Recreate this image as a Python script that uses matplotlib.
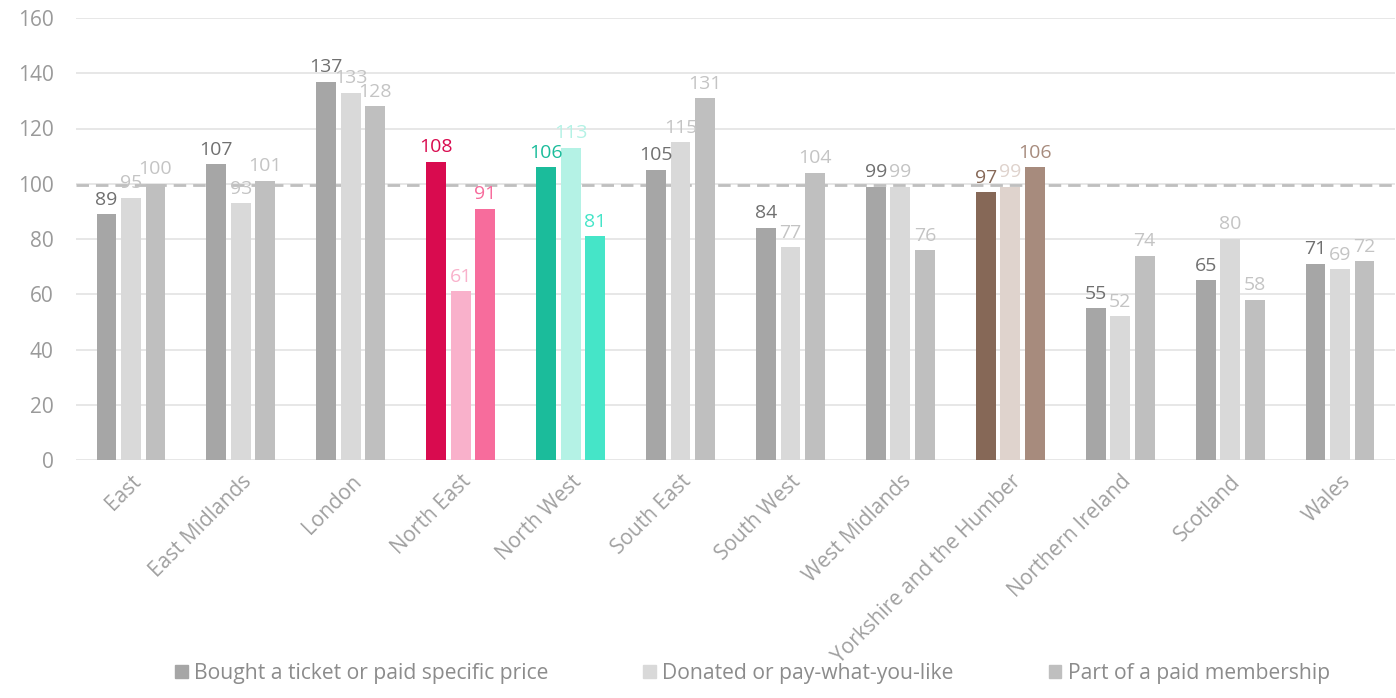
import numpy as np
import matplotlib.pyplot as plt
from matplotlib.patches import Patch

regions = ['East', 'East Midlands', 'London', 'North East', 'North West', 'South East',
           'South West', 'West Midlands', 'Yorkshire and the Humber', 'Northern Ireland',
           'Scotland', 'Wales']
ticket = [89, 107, 137, 108, 106, 105, 84, 99, 97, 55, 65, 71]
donated = [95, 93, 133, 61, 113, 115, 77, 99, 99, 52, 80, 69]
membership = [100, 101, 128, 91, 81, 131, 104, 76, 106, 74, 58, 72]
series_names = ['Bought a ticket or paid specific price', 'Donated or pay-what-you-like',
                'Part of a paid membership']
baseline = 99.6

grey = ['#a6a6a6', '#d9d9d9', '#bfbfbf']
grey_text = ['#707070', '#c4c4c4', '#c4c4c4']
highlight = {
    'North East': ['#d90b4f', '#f9b1cb', '#f76c9c'],
    'North West': ['#1bbc9b', '#b4f2e5', '#45e5c8'],
    'Yorkshire and the Humber': ['#866857', '#dfd3cd', '#a78b7d'],
}

plt.rcParams['font.family'] = ['Open Sans', 'DejaVu Sans']

fig = plt.figure(figsize=(13.96, 6.98), dpi=100)
ax = fig.add_axes([76 / 1396, 1 - 460 / 698, (1395 - 76) / 1396, (460 - 18) / 698])

x = np.arange(len(regions))
width = 0.18
step = 0.223
for j, vals in enumerate([ticket, donated, membership]):
    for i, v in enumerate(vals):
        if regions[i] in highlight:
            c = highlight[regions[i]][j]
            tc = c
        else:
            c = grey[j]
            tc = grey_text[j]
        xp = x[i] + (j - 1) * step
        ax.bar(xp, v, width=width, color=c, zorder=3)
        ax.text(xp, v + 2, str(v), ha='center', va='bottom', color=tc, fontsize=14, zorder=4)

ax.axhline(baseline, color='#bfbfbf', linestyle=(0, (4.5, 2.5)), linewidth=2, zorder=2)

ax.set_xlim(-0.5, len(regions) - 0.5)
ax.set_ylim(0, 160)
ax.set_yticks(range(0, 161, 20))
ax.yaxis.grid(True, color='#e3e3e3', linewidth=1.2, zorder=0)
ax.set_axisbelow(True)
for s in ax.spines.values():
    s.set_visible(False)
ax.tick_params(axis='both', length=0, colors='#9a9a9a', labelsize=15)
ax.tick_params(axis='y', pad=16)
ax.set_xticks(x)
ax.set_xticklabels(regions, rotation=45, ha='right', rotation_mode='anchor', color='#a0a0a0')
ax.tick_params(axis='x', pad=8)

handles = [Patch(color=c) for c in grey]
fig.legend(handles, series_names, loc='lower center', bbox_to_anchor=(0.539, -0.007), ncol=3,
           frameon=False, handlelength=0.6, handleheight=0.6, handletextpad=0.3,
           columnspacing=4.5, prop={'size': 15.2}, labelcolor='#8c8c8c')

fig.savefig('out.png', dpi=100)
